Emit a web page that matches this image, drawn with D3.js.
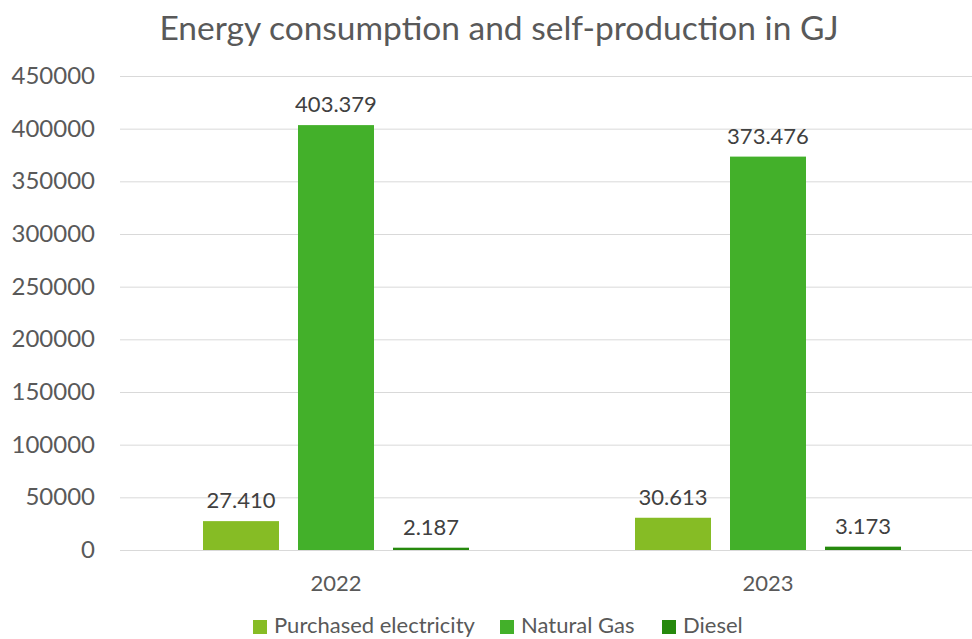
<!DOCTYPE html>
<html>
<head>
<meta charset="utf-8">
<script src="https://cdn.jsdelivr.net/npm/d3@7"></script>
<style>
  body { margin: 0; background: #fff; }
  svg { display: block; font-family: Lato, "Open Sans", sans-serif; }
</style>
</head>
<body>
<svg id="chart" width="972" height="639"></svg>
<script>
// data
var years = ["2022", "2023"];
var series = ["Purchased electricity", "Natural Gas", "Diesel"];
var electricity = [27410, 30613];
var naturalGas = [403379, 373476];
var diesel = [2187, 3173];
var yTicks = [0, 50000, 100000, 150000, 200000, 250000, 300000, 350000, 400000, 450000];

var colors = ["#86bc25", "#43b02a", "#26890d"];
var values = [electricity, naturalGas, diesel];

var data = years.map(function(y, i) {
  return { year: y, vals: series.map(function(s, j) { return { key: s, value: values[j][i] }; }) };
});

var svg = d3.select("#chart");

// scales
var x0 = d3.scaleBand().domain(years).range([120, 984]).padding(0);
var x1 = d3.scaleBand().domain(series).range([83, 349]).paddingInner(0.2).paddingOuter(0);
var y = d3.scaleLinear().domain([0, 450000]).range([550, 76]);
var z = d3.scaleOrdinal().domain(series).range(colors);

// title
svg.append("text")
  .attr("x", 499).attr("y", 40)
  .attr("text-anchor", "middle")
  .attr("font-size", "33.5px")
  .attr("fill", "#595959")
  .text("Energy consumption and self-production in GJ");

// gridlines
svg.append("g").selectAll("line")
  .data(yTicks).enter().append("line")
  .attr("x1", 120).attr("x2", 972)
  .attr("y1", function(d) { return y(d) + 0.5; })
  .attr("y2", function(d) { return y(d) + 0.5; })
  .attr("stroke", "#d9d9d9").attr("stroke-width", 1);

// y tick labels
svg.append("g").selectAll("text")
  .data(yTicks).enter().append("text")
  .attr("x", 95).attr("y", function(d) { return y(d) + 8; })
  .attr("text-anchor", "end")
  .attr("font-size", "24px")
  .attr("fill", "#595959")
  .text(function(d) { return d; });

// bars
var groups = svg.append("g").selectAll("g")
  .data(data).enter().append("g")
  .attr("transform", function(d) { return "translate(" + x0(d.year) + ",0)"; });

groups.selectAll("rect")
  .data(function(d) { return d.vals; })
  .enter().append("rect")
  .attr("x", function(d) { return x1(d.key); })
  .attr("y", function(d) { return y(d.value); })
  .attr("width", x1.bandwidth())
  .attr("height", function(d) { return y(0) - y(d.value); })
  .attr("fill", function(d) { return z(d.key); });

// data labels
groups.selectAll("text")
  .data(function(d) { return d.vals; })
  .enter().append("text")
  .attr("x", function(d) { return x1(d.key) + x1.bandwidth() / 2; })
  .attr("y", function(d) { return y(d.value) - 13; })
  .attr("text-anchor", "middle")
  .attr("font-size", "22px")
  .attr("fill", "#404040")
  .text(function(d) { return d3.format(",")(d.value).replace(",", "."); });

// x axis labels
svg.append("g").selectAll("text")
  .data(years).enter().append("text")
  .attr("x", function(d) { return x0(d) + x0.bandwidth() / 2; })
  .attr("y", 591)
  .attr("text-anchor", "middle")
  .attr("font-size", "22px")
  .attr("fill", "#595959")
  .text(function(d) { return d; });

// legend
var legendX = [253, 500, 662];
var legend = svg.append("g").selectAll("g")
  .data(series).enter().append("g")
  .attr("transform", function(d, i) { return "translate(" + legendX[i] + ",620)"; });
legend.append("rect")
  .attr("width", 14).attr("height", 14)
  .attr("fill", function(d) { return z(d); });
legend.append("text")
  .attr("x", 21).attr("y", 13)
  .attr("font-size", "22px")
  .attr("fill", "#595959")
  .text(function(d) { return d; });
</script>
</body>
</html>
